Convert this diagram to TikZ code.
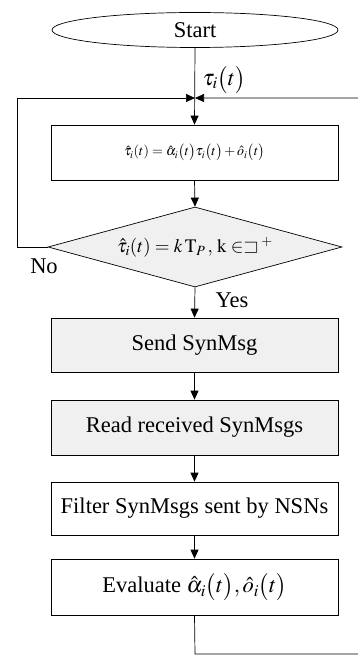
\documentclass[tikz,border=0pt]{standalone}
\usepackage{amssymb}
\usepackage{mathptmx}
\usepackage{fontspec}
\setmainfont{Liberation Serif}
\usetikzlibrary{shapes.geometric,arrows.meta}
\begin{document}
\begin{tikzpicture}[x=1pt,y=1pt,
  line width=0.7pt,
  every node/.style={font=\fontsize{22.5}{26}\selectfont},
  arr/.style={-{Triangle[length=9pt,width=8pt]}},
  procbox/.style={draw, minimum width=287pt, inner sep=0pt},
  graybox/.style={procbox, fill=black!6},
  decide/.style={draw, diamond, fill=black!6, minimum width=294pt, minimum height=80pt, shape aspect=3.675, inner sep=0pt},
  startnode/.style={draw, ellipse, minimum width=286pt, minimum height=35pt, inner sep=0pt}]
\useasboundingbox (0,0) rectangle (357,-660);
\node[startnode] (start) at (195,-30) {Start};
\coordinate (J) at (195,-98);
\node[procbox, minimum height=55pt, font=\fontsize{14}{16}\selectfont] (upd) at (194.5,-152.5)
  {$\hat{\tau}_i(t)=\hat{\alpha}_i\big(t\big)\tau_i\big(t\big)+\hat{o}_i\big(t\big)$};
\node[decide, font=\fontsize{19}{22}\selectfont] (dec) at (195,-247)
  {$\hat{\tau}_i(t)=k\,\mathrm{T}_P\,,\,\mathrm{k}\in\sqsupset^{\;+}$};
\node[graybox, minimum height=54pt] (send) at (194.5,-345) {Send SynMsg};
\node[graybox, minimum height=55pt] (read) at (194.5,-427.5) {Read received SynMsgs};
\node[procbox, minimum height=53pt] (filt) at (194.5,-508.5) {Filter SynMsgs sent by NSNs};
\node[procbox, minimum height=56pt] (eval) at (194.5,-587) {Evaluate $\hat{\alpha}_i\big(t\big),\hat{o}_i\big(t\big)$};
\coordinate (L) at (17,-98);
\coordinate (R) at (361,-98);
\coordinate (B) at (195,-654);
\coordinate (BR) at (361,-654);
\coordinate (DL) at (17,-247);
\draw[arr] (start.south) -- (upd.north);
\node[anchor=west] (tau) at (199,-80) {$\tau_i\big(t\big)$};
\draw[arr] (dec.west) -- (DL) -- (L) -- (J);
\draw[arr] (eval.south) -- (B) -- (BR) -- (R) -- (J);
\draw[arr] (upd.south) -- (dec.north);
\draw[arr] (dec.south) -- (send.north);
\draw[arr] (send.south) -- (read.north);
\draw[arr] (read.south) -- (filt.north);
\draw[arr] (filt.south) -- (eval.north);
\node (no) at (44,-266) {No};
\node (yes) at (232,-300) {Yes};
\end{tikzpicture}
\end{document}
